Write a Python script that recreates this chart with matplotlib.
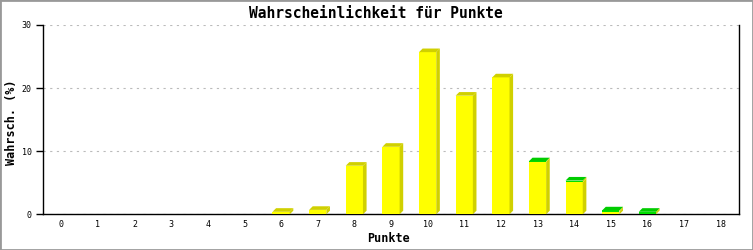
import matplotlib
matplotlib.use("Agg")
import matplotlib.pyplot as plt
from matplotlib.patches import Polygon, Rectangle

points = list(range(19))
yellow = [0, 0, 0, 0, 0, 0, 0.4, 0.7, 7.7, 10.7, 25.7, 18.8, 21.7, 8.3, 5.1, 0.37, 0.1, 0, 0]
green = [0, 0, 0, 0, 0, 0, 0, 0, 0, 0, 0, 0, 0, 0.1, 0.25, 0.25, 0.3, 0, 0]
yticks = [0, 10, 20, 30]

W, H = 753, 250
fig = plt.figure(figsize=(W / 100, H / 100), dpi=100)
fig.patch.set_facecolor("white")
fig.patches.append(Rectangle((0, 0), 1, 1, transform=fig.transFigure, fill=False,
                             edgecolor="#999999", linewidth=2))

x0, x1 = 43, 739
y0, y1 = 214.3, 25
ax = fig.add_axes([x0 / W, 1 - y0 / H, (x1 - x0) / W, (y0 - y1) / H])
ax.set_xlim(-0.5, 18.5)
ax.set_ylim(0, 30)

mono = "DejaVu Sans Mono"
bw = 0.47
depth = 3.6
dx = depth / ((x1 - x0) / 19.0)
dy = depth / ((y0 - y1) / 30.0)

def draw3d(x, base, h, front, side):
    if h <= 0:
        return
    ax.bar([x], [h], bottom=[base], width=bw, color=front, zorder=3, linewidth=0)
    r = x + bw / 2
    ax.add_patch(Polygon([(r, base), (r + dx, base + dy), (r + dx, base + h + dy), (r, base + h)],
                         closed=True, facecolor=side, edgecolor="none", zorder=3, clip_on=False))

for i, x in enumerate(points):
    yv, gv = yellow[i], green[i]
    draw3d(x, 0, yv, "#ffff00", "#d0d000")
    draw3d(x, yv, gv, "#00e000", "#d0d000")
    tot = yv + gv
    if tot > 0:
        topc = "#00cc00" if gv > 0 else "#d0d000"
        l, r = x - bw / 2, x + bw / 2
        ax.add_patch(Polygon([(l, tot), (l + dx, tot + dy), (r + dx, tot + dy), (r, tot)],
                             closed=True, facecolor=topc, edgecolor="none", zorder=3, clip_on=False))

ax.set_yticks(yticks)
ax.set_xticks(points)
ax.set_xticklabels([str(p) for p in points], fontsize=6, fontfamily=mono)
ax.set_yticklabels([str(v) for v in yticks], fontsize=6, fontfamily=mono)
ax.tick_params(axis="x", length=0, pad=4)
ax.tick_params(axis="y", length=5, width=1, direction="out", pad=3)
ax.yaxis.grid(True, linestyle=(0, (2, 4)), color="#bbbbbb", linewidth=0.8)
ax.set_axisbelow(True)
ax.spines["top"].set_visible(False)
for s in ["left", "bottom", "right"]:
    ax.spines[s].set_color("black")
    ax.spines[s].set_linewidth(1)

fig.text(376 / W, 1 - 13 / H, "Wahrscheinlichkeit für Punkte", ha="center", va="center",
         fontsize=10.5, fontweight="bold", fontfamily=mono)
fig.text(12 / W, 1 - 122 / H, "Wahrsch. (%)", ha="center", va="center", rotation=90,
         fontsize=8.5, fontweight="bold", fontfamily=mono)
fig.text(388 / W, 1 - 239 / H, "Punkte", ha="center", va="center",
         fontsize=8.5, fontweight="bold", fontfamily=mono)

fig.savefig("out.png", dpi=100, facecolor="white")
